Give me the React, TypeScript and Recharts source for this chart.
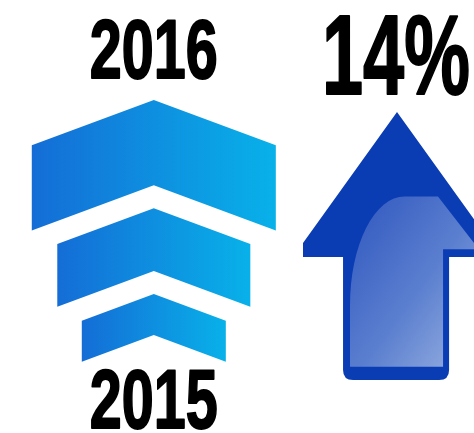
import React from 'react';
import { BarChart, Bar, XAxis, YAxis, LabelList } from 'recharts';

// tiers stacked bottom -> top, value = chevron width
const TIER_KEYS = ['base', 'middle', 'top'];
const TIER_SIZES = [144, 193, 244];
const YEARS = ['2015', '2016'];
const CHANGE_PCT = [14];

const tierRow: Record<string, any> = { name: 'growth' };
TIER_KEYS.forEach((k, i) => (tierRow[k] = TIER_SIZES[i]));
const tierData = [tierRow];
const tierTotal = TIER_SIZES.reduce((a, b) => a + b, 0);

const changeData = [{ name: 'change', pct: CHANGE_PCT[0] }];

const CHEVRON_ASPECT = 0.444;
const GAP = 23;
const FONT = "'Liberation Sans', Arial, sans-serif";

function Chevron(props: any) {
    const { x, y, width, height } = props;
    if (!height) return null;
    const cx = x + width / 2;
    const w = height / CHEVRON_ASPECT;
    const d = 0.185 * w;
    const t = height - GAP;
    const path = `M${cx - w / 2},${y + d} L${cx},${y} L${cx + w / 2},${y + d} L${cx + w / 2},${y + d + t} L${cx},${y + t} L${cx - w / 2},${y + d + t} Z`;
    return <path d={path} fill="url(#chevronFill)" />;
}

function Arrow(props: any) {
    const { x, y, width: W, height: H } = props;
    if (!H) return null;
    const cx = x + W / 2;
    const wingTop = y + 0.489 * H;
    const wingBot = y + 0.541 * H;
    const sl = x + 0.213 * W;
    const sr = x + 0.777 * W;
    const b = y + H;
    const r = 10;
    const outer = `M${cx},${y} L${x + W},${wingTop} L${x + W},${wingBot} L${sr},${wingBot} L${sr},${b - r} Q${sr},${b} ${sr - r},${b} L${sl + r},${b} Q${sl},${b} ${sl},${b - r} L${sl},${wingBot} L${x},${wingBot} L${x},${wingTop} Z`;
    // glossy inner highlight
    const hx0 = x + 0.25 * W;
    const hy0 = y + 0.72 * H;
    const hx1 = x + 0.54 * W;
    const hy1 = y + 0.315 * H;
    const hl = `M${hx0},${y + 0.951 * H} L${hx0},${hy0} A${hx1 - hx0},${hy0 - hy1} 0 0 1 ${hx1},${hy1} L${x + 0.718 * W},${hy1} L${x + 0.91 * W},${y + 0.489 * H} L${x + 0.91 * W},${y + 0.512 * H} L${x + 0.745 * W},${y + 0.512 * H} L${x + 0.745 * W},${y + 0.951 * H} Z`;
    return (
        <g>
            <path d={outer} fill="#0a3cb4" />
            <path d={hl} fill="url(#arrowGloss)" />
        </g>
    );
}

function box(p: any) {
    const vb = p.viewBox && p.viewBox.width != null ? p.viewBox : p;
    return { x: Number(vb.x), y: Number(vb.y), width: Number(vb.width), height: Number(vb.height) };
}

function BigText({ x, y, text, size, len }: any) {
    return (
        <text x={x} y={y} textAnchor="middle" fontFamily={FONT} fontWeight={700} fontSize={size}
            fill="#000" stroke="#000" strokeWidth={2} strokeLinejoin="round" textLength={len} lengthAdjust="spacingAndGlyphs">
            {text}
        </text>
    );
}

export default function App() {
    return (
        <div style={{ position: 'absolute', left: 0, top: 0, width: 474, height: 433, overflow: 'hidden', background: '#fff' }}>
            <div style={{ position: 'absolute', left: 0, top: 0 }}>
                <BarChart width={308} height={433} data={tierData} margin={{ top: 100, right: 0, bottom: 75, left: 0 }}>
                    <defs>
                        <linearGradient id="chevronFill" x1="0" y1="0" x2="1" y2="0">
                            <stop offset="0%" stopColor="#146dd6" />
                            <stop offset="100%" stopColor="#08b1e9" />
                        </linearGradient>
                    </defs>
                    <XAxis dataKey="name" hide />
                    <YAxis type="number" domain={[0, tierTotal]} hide />
                    {TIER_KEYS.map((k, i) => (
                        <Bar key={k} dataKey={k} stackId="tiers" shape={<Chevron />} isAnimationActive={false}>
                            {i === 0 && (
                                <LabelList dataKey={k} content={(p: any) => {
                                    const b = box(p);
                                    return <BigText x={b.x + b.width / 2} y={b.y + b.height + 70} text={YEARS[0]} size={84} len={128} />;
                                }} />
                            )}
                            {i === TIER_KEYS.length - 1 && (
                                <LabelList dataKey={k} content={(p: any) => {
                                    const b = box(p);
                                    return <BigText x={b.x + b.width / 2} y={b.y - 22} text={YEARS[1]} size={84} len={128} />;
                                }} />
                            )}
                        </Bar>
                    ))}
                </BarChart>
            </div>
            <div style={{ position: 'absolute', left: 290, top: 0 }}>
                <BarChart width={214} height={433} data={changeData} margin={{ top: 112, right: 0, bottom: 53, left: 0 }}>
                    <defs>
                        <linearGradient id="arrowGloss" x1="0" y1="0" x2="1" y2="1">
                            <stop offset="0%" stopColor="#2f56bf" />
                            <stop offset="55%" stopColor="#5b7fcf" />
                            <stop offset="100%" stopColor="#9ab2e2" />
                        </linearGradient>
                    </defs>
                    <XAxis dataKey="name" hide />
                    <YAxis type="number" domain={[0, CHANGE_PCT[0]]} hide />
                    <Bar dataKey="pct" barSize={188} shape={<Arrow />} isAnimationActive={false}>
                        <LabelList dataKey="pct" content={(p: any) => {
                            const b = box(p);
                            return <BigText x={b.x + b.width / 2 - 1} y={b.y - 18} text={`${p.value}%`} size={114} len={148} />;
                        }} />
                    </Bar>
                </BarChart>
            </div>
        </div>
    );
}
